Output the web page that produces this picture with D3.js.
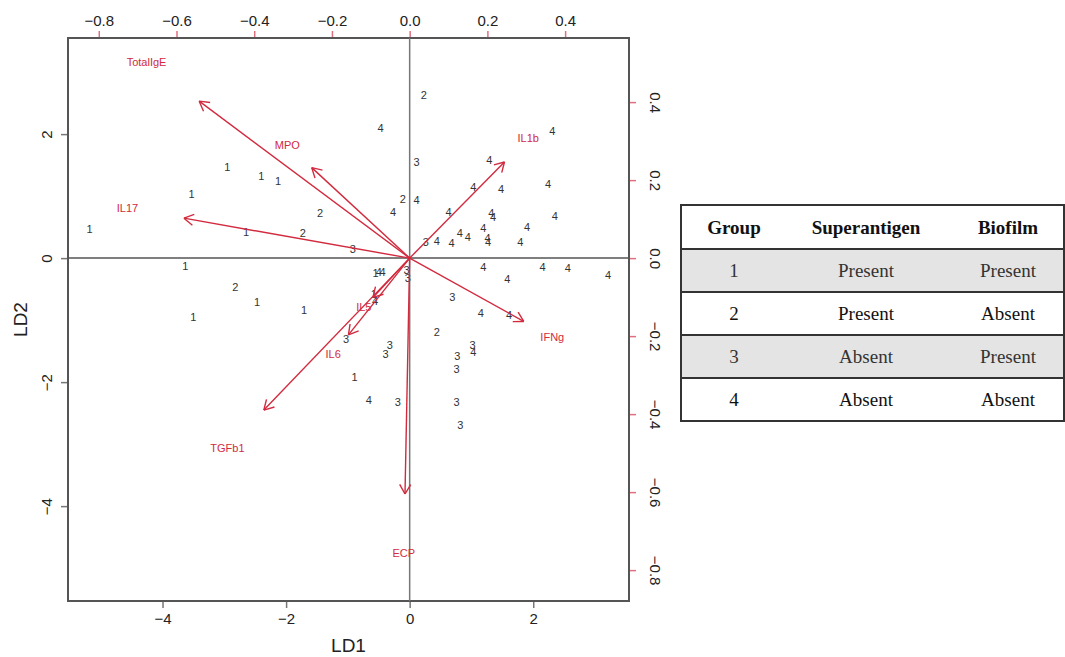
<!DOCTYPE html>
<html>
<head>
<meta charset="utf-8">
<script src="https://cdn.jsdelivr.net/npm/d3@7"></script>
<style>
  body { margin: 0; background: #fff; }
  svg text { font-family: "Liberation Sans", Arial, sans-serif; }
</style>
</head>
<body>
<div id="chart"></div>
<script>
// scores on the discriminant axes, one label per case
const groups = [1,1,1,1,1,1,1,1,1,1,1,1,1,
  2,2,2,2,2,2,
  3,3,3,3,3,3,3,3,3,3,3,3,3,3,3,
  4,4,4,4,4,4,4,4,4,4,4,4,4,4,4,4,4,4,4,4,4,4,4,4,4,4,4,4,4,4,4,4,4];
const ld1 = [-5.18,-2.95,-2.40,-2.13,-3.53,-2.65,-3.63,-3.50,-2.47,-1.71,-0.89,-0.55,-0.58,
  0.23,-1.45,-1.73,-0.11,-2.82,0.44,
  0.11,-0.92,0.26,-0.05,-0.03,0.69,-1.03,-0.32,-0.39,1.02,0.77,0.76,-0.19,0.76,0.82,
  -0.47,2.31,1.29,1.03,1.48,2.24,0.11,-0.27,0.63,1.32,1.35,2.35,1.90,1.19,0.44,0.68,0.81,0.94,1.26,1.27,1.79,1.19,2.15,2.56,3.21,1.58,-0.50,-0.44,-0.56,1.15,1.61,1.03,-0.66];
const ld2 = [0.47,1.47,1.32,1.24,1.03,0.42,-0.13,-0.95,-0.71,-0.84,-1.92,-0.24,-0.58,
  2.63,0.73,0.40,0.95,-0.47,-1.19,
  1.55,0.15,0.26,-0.19,-0.32,-0.63,-1.31,-1.40,-1.55,-1.40,-1.58,-1.79,-2.32,-2.32,-2.69,
  2.10,2.05,1.58,1.15,1.11,1.19,0.94,0.74,0.74,0.73,0.66,0.68,0.50,0.48,0.27,0.24,0.40,0.34,0.32,0.26,0.26,-0.15,-0.15,-0.16,-0.27,-0.34,-0.23,-0.23,-0.69,-0.89,-0.92,-1.52,-2.29];

// variable loadings
const vars = ["TotalIgE","MPO","IL17","IL1b","IFNg","IL5","IL6","TGFb1","ECP"];
const load1 = [-0.677,-0.315,-0.726,0.305,0.367,-0.118,-0.197,-0.469,-0.015];
const load2 = [0.503,0.290,0.128,0.308,-0.203,-0.126,-0.246,-0.487,-0.756];

const scoreTicks = [-4,-2,0,2];
const loadTicks = [-0.8,-0.6,-0.4,-0.2,0.0,0.2,0.4];

const tableHead = ["Group","Superantigen","Biofilm"];
const tableGroup = ["1","2","3","4"];
const tableSuper = ["Present","Present","Absent","Absent"];
const tableBio = ["Present","Absent","Present","Absent"];

const W = 1065, H = 657;
const box = { left: 68, right: 629, top: 38, bottom: 601 };
const lim = [-5.53, 3.55];
const ratio = 6.29;

const svg = d3.select('#chart').append('svg')
  .attr('width', W).attr('height', H);

const x = d3.scaleLinear().domain(lim).range([box.left, box.right]);
const y = d3.scaleLinear().domain(lim).range([box.bottom, box.top]);
const xl = d3.scaleLinear().domain(lim.map(v => v / ratio)).range([box.left, box.right]);
const yl = d3.scaleLinear().domain(lim.map(v => v / ratio)).range([box.bottom, box.top]);

const red = '#d22a3e';
const fmtL = d => d3.format('.1f')(d).replace('-', '\u2212');
const fmtS = d => String(d).replace('-', '\u2212');

// axes
function styleAxis(g, tickColor) {
  g.select('.domain').remove();
  g.selectAll('.tick line').attr('stroke', tickColor).attr('stroke-width', 1.5);
  g.selectAll('.tick text').attr('fill', '#222').style('font-size', '15px');
}

svg.append('g')
  .attr('transform', `translate(0,${box.bottom})`)
  .call(d3.axisBottom(x).tickValues(scoreTicks).tickSize(7).tickPadding(5).tickFormat(fmtS))
  .call(g => styleAxis(g, '#777'));

svg.append('g')
  .attr('transform', `translate(${box.left},0)`)
  .call(d3.axisLeft(y).tickValues(scoreTicks).tickSize(7).tickPadding(0).tickFormat(fmtS))
  .call(g => styleAxis(g, '#777'))
  .call(g => g.selectAll('.tick text')
    .attr('text-anchor', 'middle').attr('dy', 0).attr('x', 0)
    .attr('transform', 'translate(-21,0) rotate(-90)').attr('dy', '0.35em'));

svg.append('g')
  .attr('transform', `translate(0,${box.top})`)
  .call(d3.axisTop(xl).tickValues(loadTicks).tickSize(7).tickPadding(5).tickFormat(fmtL))
  .call(g => styleAxis(g, '#e07080'));

svg.append('g')
  .attr('transform', `translate(${box.right},0)`)
  .call(d3.axisRight(yl).tickValues(loadTicks).tickSize(7).tickPadding(0).tickFormat(fmtL))
  .call(g => styleAxis(g, '#e07080'))
  .call(g => g.selectAll('.tick text')
    .attr('text-anchor', 'middle').attr('x', 0)
    .attr('transform', 'translate(26,0) rotate(90)').attr('dy', '0.35em'));

// frame
svg.append('rect')
  .attr('x', box.left).attr('y', box.top)
  .attr('width', box.right - box.left).attr('height', box.bottom - box.top)
  .attr('fill', 'none').attr('stroke', '#555').attr('stroke-width', 2);

// zero lines
svg.append('line').attr('x1', x(0)).attr('x2', x(0)).attr('y1', box.top).attr('y2', box.bottom)
  .attr('stroke', '#777').attr('stroke-width', 1.5);
svg.append('line').attr('x1', box.left).attr('x2', box.right).attr('y1', y(0)).attr('y2', y(0))
  .attr('stroke', '#555').attr('stroke-width', 1.5);

// axis titles
svg.append('text').attr('x', (box.left + box.right) / 2).attr('y', 652)
  .attr('text-anchor', 'middle').style('font-size', '19px').attr('fill', '#222').text('LD1');
svg.append('text').attr('transform', `translate(27,${(box.top + box.bottom) / 2}) rotate(-90)`)
  .attr('text-anchor', 'middle').style('font-size', '19px').attr('fill', '#222').text('LD2');

// case labels
svg.append('g').selectAll('text')
  .data(groups.map((g, i) => ({ g, a: ld1[i], b: ld2[i] })))
  .join('text')
  .attr('x', d => x(d.a)).attr('y', d => y(d.b))
  .attr('text-anchor', 'middle').attr('dy', '0.35em')
  .style('font-size', '11px').attr('fill', '#333')
  .text(d => d.g);

// loading arrows (drawn to 0.8 of the loading, label at full length)
const arrows = svg.append('g');
vars.forEach((v, i) => {
  const x0 = xl(0), y0 = yl(0);
  const x1 = xl(load1[i] * 0.8), y1 = yl(load2[i] * 0.8);
  const ang = Math.atan2(y1 - y0, x1 - x0);
  const len = 11;
  arrows.append('line').attr('x1', x0).attr('y1', y0).attr('x2', x1).attr('y2', y1)
    .attr('stroke', red).attr('stroke-width', 1.4);
  [-Math.PI / 6, Math.PI / 6].forEach(da => {
    arrows.append('line').attr('x1', x1).attr('y1', y1)
      .attr('x2', x1 - len * Math.cos(ang + da)).attr('y2', y1 - len * Math.sin(ang + da))
      .attr('stroke', red).attr('stroke-width', 1.4);
  });
  arrows.append('text').attr('x', xl(load1[i])).attr('y', yl(load2[i]))
    .attr('text-anchor', 'middle').attr('dy', '0.35em')
    .style('font-size', '11px').attr('fill', red).text(v);
});

// group table
const tbl = { left: 681, right: 1064, top: 205, head: 44, row: 43 };
const colX = [734, 866, 1008];
const tg = svg.append('g').style('font-family', '"Liberation Serif", "Times New Roman", serif');
tableGroup.forEach((g, i) => {
  const ry = tbl.top + tbl.head + i * tbl.row;
  tg.append('rect').attr('x', tbl.left).attr('y', ry)
    .attr('width', tbl.right - tbl.left).attr('height', tbl.row)
    .attr('fill', i % 2 === 0 ? '#e4e4e4' : '#fff');
  [g, tableSuper[i], tableBio[i]].forEach((t, j) => {
    tg.append('text').attr('x', colX[j]).attr('y', ry + tbl.row / 2)
      .attr('text-anchor', 'middle').attr('dy', '0.35em')
      .style('font-family', '"Liberation Serif", serif')
      .style('font-size', '19px').attr('fill', i % 2 === 0 ? '#333' : '#111').text(t);
  });
});
tableHead.forEach((t, j) => {
  tg.append('text').attr('x', colX[j]).attr('y', tbl.top + tbl.head / 2)
    .attr('text-anchor', 'middle').attr('dy', '0.35em')
    .style('font-family', '"Liberation Serif", serif')
    .style('font-size', '19px').style('font-weight', 'bold').attr('fill', '#111').text(t);
});
const tBottom = tbl.top + tbl.head + tableGroup.length * tbl.row;
[tbl.top].concat(tableGroup.map((g, i) => tbl.top + tbl.head + i * tbl.row), [tBottom]).forEach(yy => {
  tg.append('line').attr('x1', tbl.left).attr('x2', tbl.right).attr('y1', yy).attr('y2', yy)
    .attr('stroke', '#333').attr('stroke-width', 2);
});
[tbl.left, tbl.right].forEach(xx => {
  tg.append('line').attr('x1', xx).attr('x2', xx).attr('y1', tbl.top - 1).attr('y2', tBottom + 1)
    .attr('stroke', '#333').attr('stroke-width', 2);
});
</script>
</body>
</html>
